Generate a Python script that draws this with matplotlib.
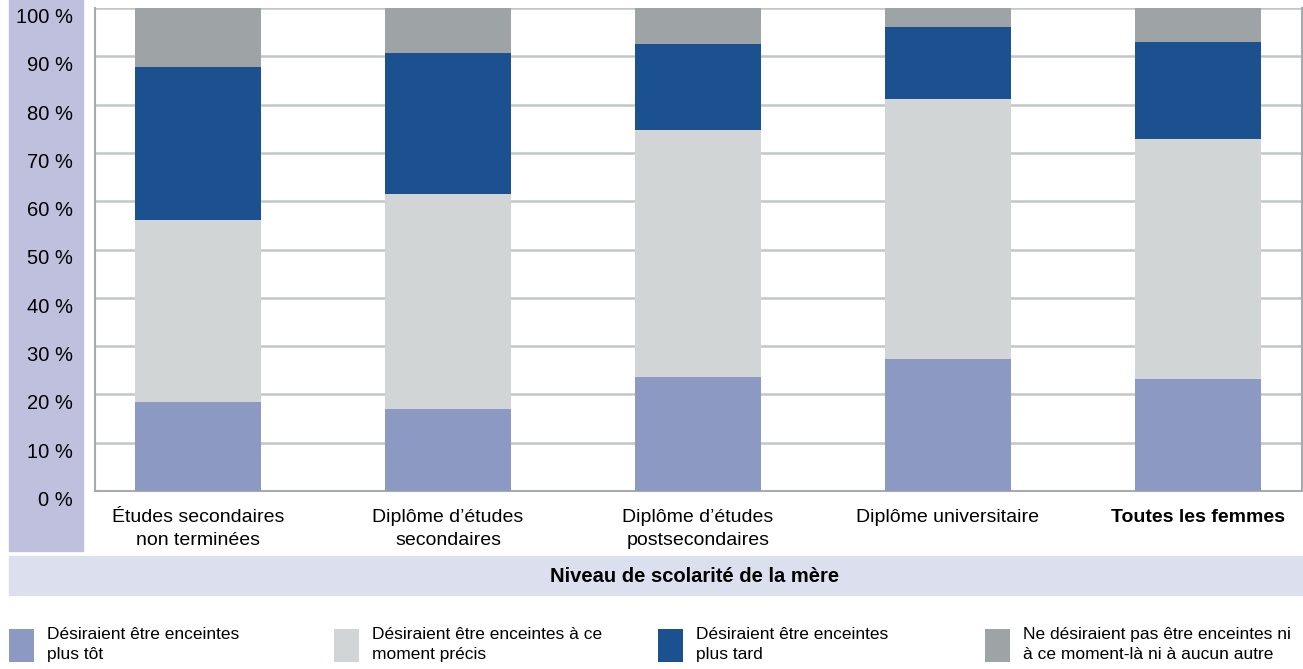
import matplotlib
matplotlib.use('Agg')
import matplotlib.pyplot as plt
import matplotlib.transforms as mtransforms
from matplotlib.patches import Rectangle
from matplotlib import font_manager

# Data (percent of women, by mother's education level)
categories = ['Études secondaires\nnon terminées', 'Diplôme d’études\nsecondaires',
              'Diplôme d’études\npostsecondaires', 'Diplôme universitaire',
              'Toutes les femmes']
plus_tot = [18.5, 17.0, 23.7, 27.4, 23.2]
ce_moment = [37.7, 44.4, 51.0, 53.7, 49.6]
plus_tard = [31.6, 29.3, 17.8, 15.0, 20.1]
jamais = [12.2, 9.3, 7.5, 3.9, 7.1]
series_labels = ['Désiraient être enceintes\nplus tôt',
                 'Désiraient être enceintes à ce\nmoment précis',
                 'Désiraient être enceintes\nplus tard',
                 'Ne désiraient pas être enceintes ni\nà ce moment-là ni à aucun autre']
yticks = [0, 10, 20, 30, 40, 50, 60, 70, 80, 90, 100]

colors = ['#8c99c2', '#d1d5d6', '#1b518f', '#9ea3a5']

names = [f.name for f in font_manager.fontManager.ttflist]
fam = 'Liberation Sans Narrow' if 'Liberation Sans Narrow' in names else 'Liberation Sans'
plt.rcParams['font.family'] = [fam, 'DejaVu Sans']

W, H = 1303, 669
fig = plt.figure(figsize=(W / 100, H / 100), dpi=100)

# background bands
fig.patches.append(Rectangle((9 / W, (H - 551) / H), 74 / W, 551 / H,
                             transform=fig.transFigure, color='#bfc0dd', zorder=0))
fig.patches.append(Rectangle((9 / W, (H - 595) / H), (W - 9) / W, 39 / H,
                             transform=fig.transFigure, color='#dcdfee', zorder=0))

ax = fig.add_axes([95 / W, (H - 491) / H, 1207 / W, 483 / H])
ax.set_facecolor('none')
ax.set_zorder(2)

x = range(len(categories))
bottoms = [0] * len(categories)
bars = []
for vals, c, lab in zip([plus_tot, ce_moment, plus_tard, jamais], colors, series_labels):
    b = ax.bar(x, vals, width=0.504, bottom=bottoms, color=c, label=lab, zorder=3)
    bars.append(b)
    bottoms = [p + v for p, v in zip(bottoms, vals)]

ax.set_ylim(0, 100)
ax.set_xlim(-0.412, 4.416)
ax.set_yticks(yticks)
ax.set_yticklabels([f'{t} %' for t in yticks], fontsize=14.5)
# labels sit a little below their gridline, like the original
shift = mtransforms.ScaledTranslation(0, -4 / 72, fig.dpi_scale_trans)
for lbl in ax.get_yticklabels():
    lbl.set_va('top')
    lbl.set_transform(lbl.get_transform() + shift)
ax.yaxis.grid(True, color='#c3c6c6', linewidth=1.8, zorder=0)
ax.tick_params(axis='y', length=0, pad=16)
ax.tick_params(axis='x', length=0, pad=13)
ax.set_xticks(list(x))
ax.set_xticklabels(categories, fontsize=14, linespacing=1.45, va='top')
ax.get_xticklabels()[-1].set_fontweight('bold')
for s in ['left', 'bottom', 'right']:
    ax.spines[s].set_color('#a7abab')
    ax.spines[s].set_linewidth(1.5)
ax.spines['top'].set_visible(False)

fig.text(695 / W, (H - 576) / H, 'Niveau de scolarité de la mère', ha='center',
         va='center', fontsize=14.5, fontweight='bold')

# legend, one entry per column
leg_x = [9, 334, 658, 985]
for b, lx in zip(bars, leg_x):
    leg = fig.legend(handles=[b], loc='upper left', bbox_to_anchor=(lx / W, (H - 627) / H),
                     frameon=False, fontsize=12.5, handlelength=1.45, handleheight=2.6,
                     handletextpad=0.75, borderpad=0, borderaxespad=0, labelspacing=0)
    for t in leg.get_texts():
        t.set_linespacing(1.45)

fig.savefig('out.png', dpi=100)
